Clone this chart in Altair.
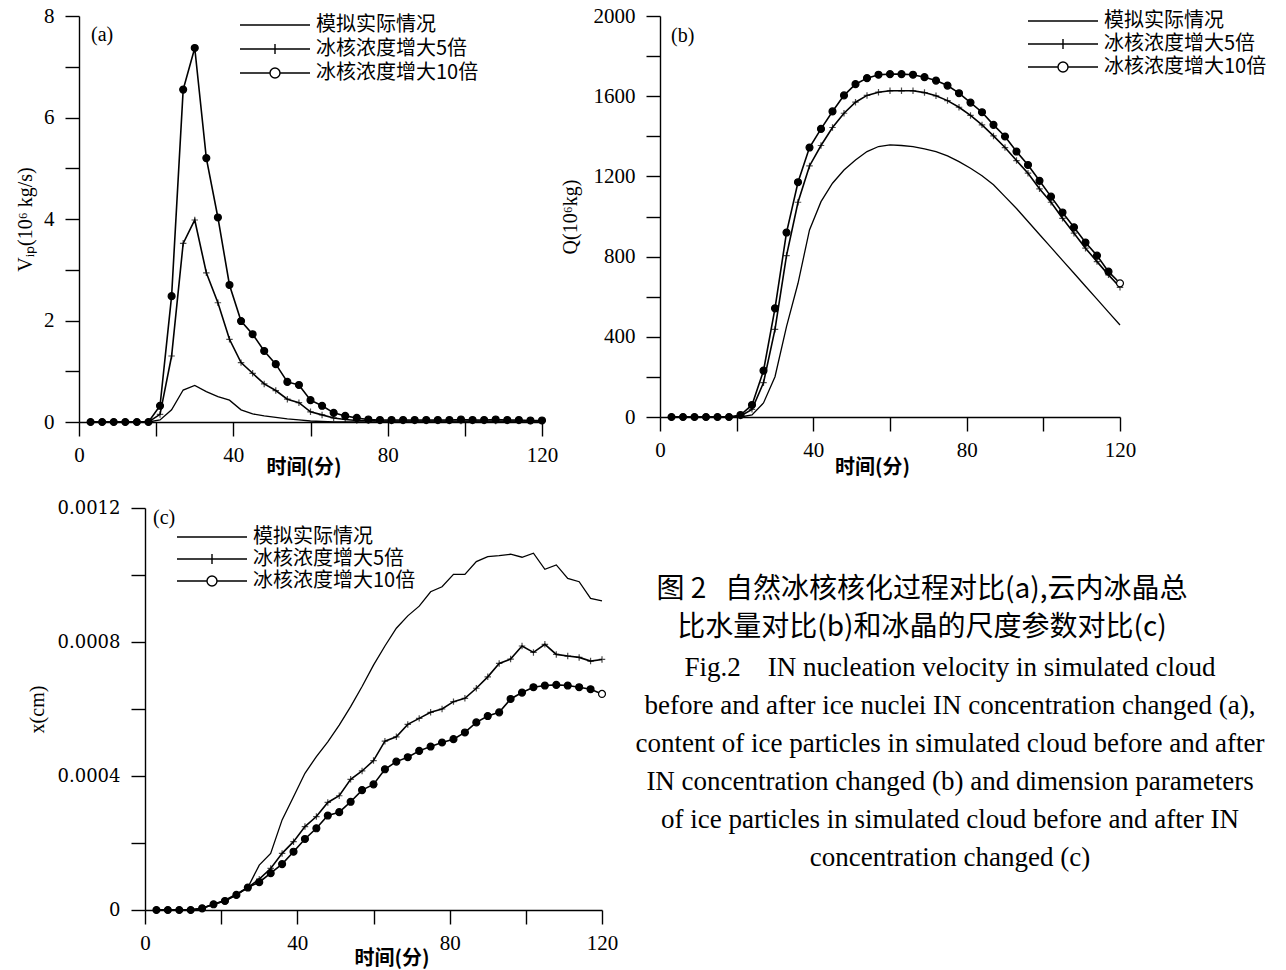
import altair as alt
import pandas as pd

CJK = "Noto Sans CJK SC"
SERIF = "Liberation Serif"

T = list(range(3, 121, 3))
NAMES = ["模拟实际情况", "冰核浓度增大5倍", "冰核浓度增大10倍"]

# ---- panel (a): V_ip (10^6 kg/s)
a_actual = [0, 0, 0, 0, 0, 0,
            0.04, 0.24, 0.63, 0.72, 0.60, 0.50, 0.43, 0.24, 0.16, 0.12, 0.09, 0.06, 0.04, 0.02, 0.01,
            0, 0, 0, 0, 0, 0, 0, 0, 0, 0, 0, 0, 0, 0, 0, 0, 0, 0, 0]
a_5x = [0, 0, 0, 0, 0, 0,
        0.15, 1.30, 3.52, 3.98, 2.94, 2.35, 1.63, 1.17, 0.96, 0.75, 0.62, 0.45, 0.38, 0.20, 0.14, 0.08, 0.05,
        0.03, 0.03, 0.02, 0.02, 0.02, 0.02, 0.02, 0.02, 0.02, 0.02, 0.02, 0.02, 0.02, 0.02, 0.02, 0.02, 0.02]
a_10x = [0, 0, 0, 0, 0, 0,
         0.32, 2.48, 6.55, 7.37, 5.20, 4.03, 2.70, 1.99, 1.73, 1.40, 1.14, 0.79, 0.73, 0.43, 0.32, 0.18, 0.12, 0.08, 0.05,
         0.04, 0.04, 0.04, 0.04, 0.04, 0.04, 0.04, 0.05, 0.04, 0.04, 0.05, 0.04, 0.04, 0.03, 0.03]

# ---- panel (b): Q (10^6 kg)
b_actual = [0, 0, 0, 0, 0, 0, 0,
            10, 70, 201, 451, 667, 933, 1074, 1166, 1232, 1282, 1324, 1349, 1357, 1354, 1349, 1337, 1324,
            1302, 1274, 1241, 1203, 1158, 1099, 1040, 975, 910, 846, 781, 717, 652, 588, 523, 459]
b_5x = [0, 0, 0, 0, 0, 0,
        5, 38, 171, 437, 805, 1071, 1252, 1354, 1444, 1515, 1570, 1604, 1620, 1627, 1627, 1627, 1618,
        1602, 1578, 1545, 1504, 1457, 1402, 1344, 1279, 1216, 1138, 1071, 991, 917, 842, 775, 709, 647]
b_10x = [0, 0, 0, 0, 0, 0,
         10, 60, 231, 542, 920, 1171, 1344, 1437, 1524, 1604, 1660, 1690, 1707, 1710, 1710, 1707, 1695,
         1678, 1653, 1615, 1568, 1520, 1457, 1399, 1324, 1257, 1178, 1099, 1020, 946, 870, 805, 725, 667]

# ---- panel (c): x (cm)
c_actual = [0, 0, 0, 0, 0.000005, 0.000017, 0.000027, 0.000045, 0.000067, 0.000134, 0.000169, 0.000269,
            0.000338, 0.000408, 0.000458, 0.000502, 0.000552, 0.000607, 0.000667, 0.000731, 0.000788,
            0.000841, 0.000878, 0.000907, 0.000950, 0.000965, 0.001002, 0.001002, 0.001040, 0.001055,
            0.001058, 0.001062, 0.001053, 0.001065, 0.001017, 0.001030, 0.000990, 0.000980, 0.000930, 0.000923]
c_5x = [0, 0, 0, 0, 0.000005, 0.000017, 0.000029, 0.000047, 0.000067, 0.000092, 0.000124, 0.000169,
        0.000204, 0.000249, 0.000279, 0.000321, 0.000341, 0.000390, 0.000415, 0.000446, 0.000504,
        0.000517, 0.000554, 0.000572, 0.000590, 0.000600, 0.000622, 0.000632, 0.000662, 0.000696,
        0.000736, 0.000749, 0.000788, 0.000769, 0.000793, 0.000763, 0.000758, 0.000754, 0.000743, 0.000748]
c_10x = [0, 0, 0, 0, 0.000005, 0.000017, 0.000027, 0.000045, 0.000067, 0.000083, 0.000110, 0.000137,
         0.000174, 0.000212, 0.000244, 0.000282, 0.000292, 0.000323, 0.000358, 0.000375, 0.000420,
         0.000443, 0.000456, 0.000475, 0.000488, 0.000500, 0.000510, 0.000530, 0.000560, 0.000579,
         0.000590, 0.000630, 0.000649, 0.000665, 0.000670, 0.000672, 0.000670, 0.000665, 0.000659, 0.000645]

CAPTION_CN = ["图 2\u00a0\u00a0\u00a0自然冰核核化过程对比(a),云内冰晶总",
              "比水量对比(b)和冰晶的尺度参数对比(c)"]
CAPTION_EN = ["Fig.2\u00a0\u00a0\u00a0\u00a0IN nucleation velocity in simulated cloud",
              "before and after ice nuclei IN concentration changed (a),",
              "content of ice particles in simulated cloud before and after",
              "IN concentration changed (b) and dimension parameters",
              "of ice particles in simulated cloud before and after IN",
              "concentration changed (c)"]

# legend symbols: drawn with symbolSize 100 -> 1 path unit = 5 px, line 70 px long
PATH_LINE = "M-7,0H7"
PATH_PLUS_LEG = "M-7,0H7M0,-1V1"
PATH_CIRC_LEG = "M-7,0H-1M1,0H7M-1,0A1,1,0,1,1,1,0A1,1,0,1,1,-1,0Z"
PATH_PLUS = "M-1,0H1M0,-1V1"


def make_df(actual, s5, s10):
    rows = []
    for name, vals in zip(NAMES, [actual, s5, s10]):
        for t, v in zip(T, vals):
            rows.append({"t": t, "v": v, "s": name})
    return pd.DataFrame(rows)


def panel(df, width, height, xrange, ymax, ystep, ylabel_expr, ytitle, ytitle_x, yfont, yfsize,
          xtitle_dx, xtitle_y, tag, tag_xy, leg_xy, row_pad, open_last, yoffset=0):
    xscale = dict(domain=[0, 120], nice=False, zero=False)
    if xrange is not None:
        xscale["range"] = xrange
    x0 = xrange[0] if xrange is not None else 0
    x1 = xrange[1] if xrange is not None else width
    x = alt.X("t:Q", scale=alt.Scale(**xscale),
              axis=alt.Axis(values=list(range(0, 121, 20)),
                            labelExpr="datum.value % 40 == 0 ? datum.label : ''",
                            labelPadding=8,
                            title="时间(分)", titleFont=CJK, titleFontSize=20, titleFontWeight="bold",
                            titleX=(x0 + x1) / 2 + xtitle_dx, titleY=xtitle_y, titleBaseline="middle",
                            titleAlign="center"))
    yvals = [round(i * ystep, 6) for i in range(int(round(ymax / ystep)) + 1)]
    y = alt.Y("v:Q", scale=alt.Scale(domain=[0, ymax], nice=False),
              axis=alt.Axis(values=yvals, labelExpr=ylabel_expr, labelFont=yfont,
                            labelFontSize=yfsize, labelPadding=11, offset=yoffset,
                            title=ytitle, titleFont=SERIF, titleFontSize=20,
                            titleFontWeight="normal", titleX=ytitle_x, titleY=height / 2,
                            titleAngle=270, titleAlign="center", titleBaseline="middle"))
    base = alt.Chart(df)
    lines_main = base.transform_filter(alt.datum.s != NAMES[0]).mark_line(
        color="black", strokeWidth=1.6).encode(x=x, y=y, detail="s:N")
    line_act = base.transform_filter(alt.datum.s == NAMES[0]).mark_line(
        color="black", strokeWidth=1.3).encode(x=x, y=y)
    plus = base.transform_filter(alt.datum.s == NAMES[1]).mark_point(
        shape=PATH_PLUS, size=42, color="black", strokeWidth=1.2, filled=False).encode(x=x, y=y)
    if open_last:
        fill = alt.condition(alt.datum.t == 120, alt.value("white"), alt.value("black"))
    else:
        fill = alt.value("black")
    circ = base.transform_filter(alt.datum.s == NAMES[2]).mark_point(
        shape="circle", size=48, stroke="black", strokeWidth=1.2, filled=True, opacity=1).encode(
        x=x, y=y, fill=fill)
    leg_df = pd.DataFrame({"t": [0, 0, 0], "v": [0, 0, 0], "s": NAMES})
    leg = alt.Chart(leg_df).mark_point(opacity=0, color="black").encode(
        x=x, y=y,
        shape=alt.Shape("s:N", sort=NAMES,
                        scale=alt.Scale(domain=NAMES, range=[PATH_LINE, PATH_PLUS_LEG, PATH_CIRC_LEG]),
                        legend=alt.Legend(title=None, orient="none", legendX=leg_xy[0], legendY=leg_xy[1],
                                          direction="vertical", symbolSize=100, symbolStrokeWidth=1.4,
                                          symbolStrokeColor="black", symbolFillColor="white",
                                          symbolOpacity=1, symbolOffset=25, labelFont=CJK,
                                          labelFontSize=20, labelColor="black", labelOffset=31,
                                          labelLimit=400, rowPadding=row_pad, padding=0)))
    tag_mark = alt.Chart(alt.Data(values=[{}])).mark_text(
        text=tag, font=SERIF, fontSize=20, align="left", baseline="middle", color="black").encode(
        x=alt.value(tag_xy[0]), y=alt.value(tag_xy[1]))
    return alt.layer(lines_main, line_act, plus, circ, leg, tag_mark).properties(
        width=width, height=height)


pa = panel(make_df(a_actual, a_5x, a_10x), 463, 406, None, 8, 1,
           "datum.value % 2 == 0 ? datum.label : ''", "Vᵢₚ(10⁶ kg/s)", -54, SERIF, 21,
           -7, 45, "(a)", (12, 19), (161, -1), 4, False)
pb = panel(make_df(b_actual, b_5x, b_10x), 460, 401, None, 2000, 200,
           "datum.value % 400 == 0 ? format(datum.value, 'd') : ''", "Q(10⁶kg)", -90, SERIF, 21,
           -18, 50, "(b)", (11, 20), (368, -5), 3, True)
# panel (c) sits 66 px to the right of panel (a): its plot spans x = 66..523 of its cell
pc = panel(make_df(c_actual, c_5x, c_10x), 523, 402, [66, 523], 0.0012, 0.0002,
           "round(datum.value * 10000) % 4 == 0 ? (datum.value == 0 ? '0' : format(datum.value, '.4f')) : ''",
           "x(cm)", -108, "DejaVu Serif", 18, 18, 48, "(c)", (74, 10), (98, 19), 2, True, yoffset=-66)

cap_cn = alt.Chart(alt.Data(values=[{}])).mark_text(
    text=CAPTION_CN, lineHeight=38, font=CJK, fontSize=28, align="center", baseline="middle",
    color="black").encode(x=alt.value(843), y=alt.value(82))
cap_en = alt.Chart(alt.Data(values=[{}])).mark_text(
    text=CAPTION_EN, lineHeight=38, font=SERIF, fontSize=27, align="center", baseline="middle",
    color="black").encode(x=alt.value(871), y=alt.value(160))
pc = alt.layer(pc, cap_cn, cap_en)

chart = alt.concat(pa, pb, pc, columns=2, spacing={"row": 86, "column": 58},
                   bounds="flush").resolve_scale(
    x="independent", y="independent", shape="independent").resolve_legend(shape="independent")

chart = chart.properties(
    autosize=alt.AutoSizeParams(type="none"),
    padding={"left": 79, "top": 16, "right": 1286 - 79, "bottom": 970 - 16},
    background="white",
).configure_view(stroke=None).configure_axis(
    grid=False, domainColor="black", domainWidth=1.4, tickColor="black", tickWidth=1.4,
    tickSize=14, labelFont=SERIF, labelFontSize=21, labelColor="black",
    titleColor="black", labelFlush=False, labelOverlap=False
)

chart.save("out.html", embed_options={"renderer": "svg", "actions": False})
